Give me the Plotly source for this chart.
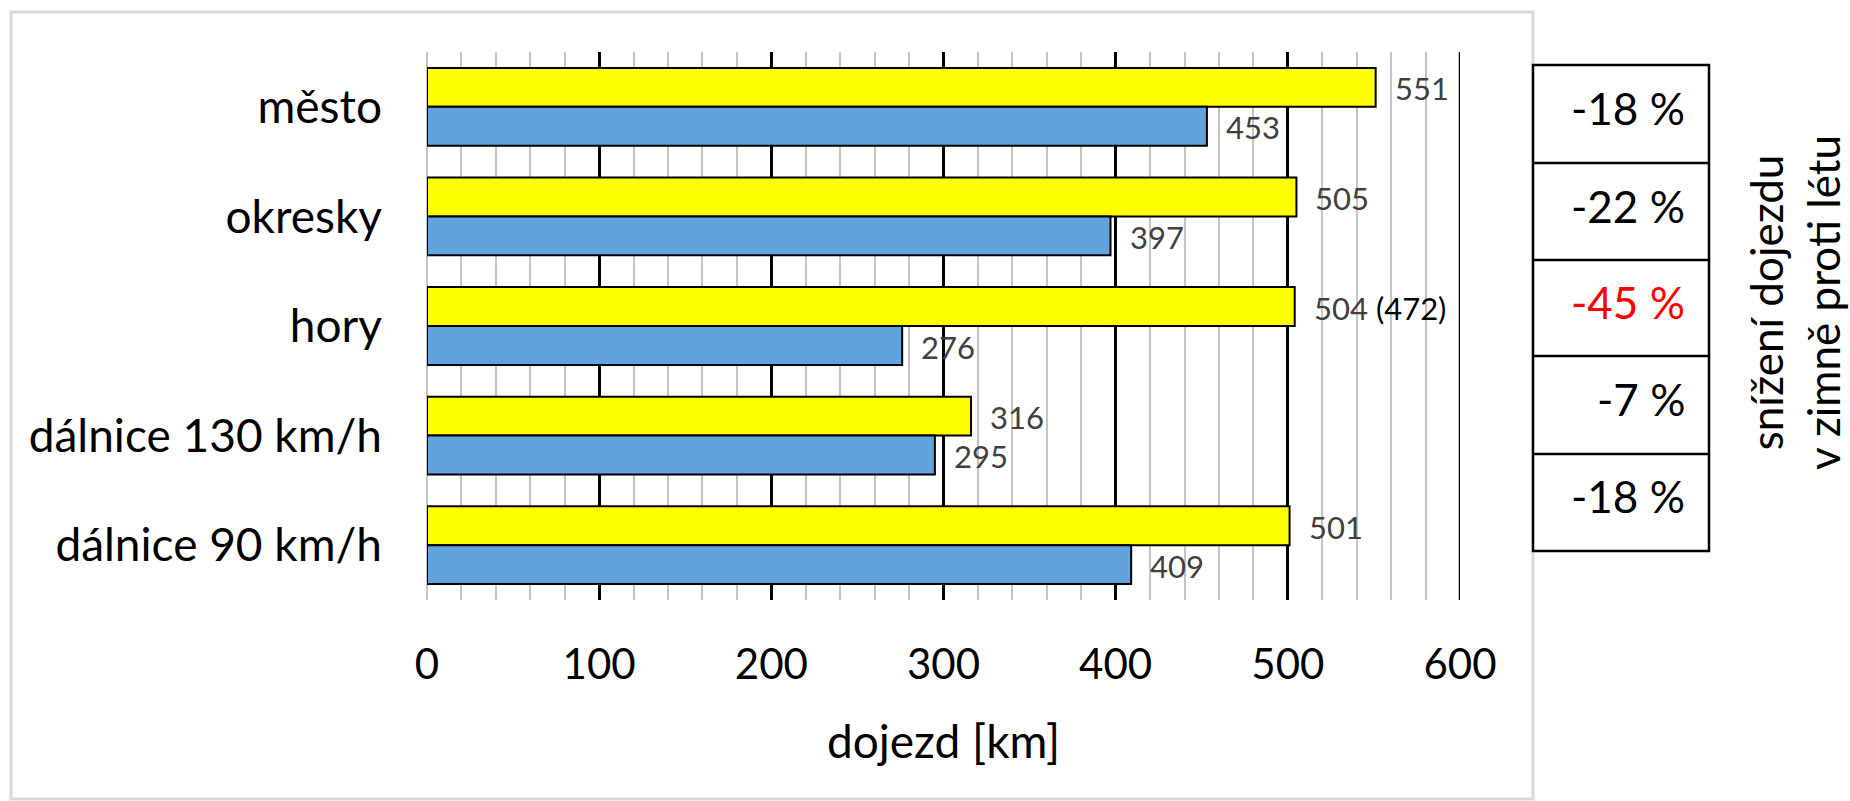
import plotly.graph_objects as go

# --- data -------------------------------------------------------------
categories = ["město", "okresky", "hory", "dálnice 130 km/h", "dálnice 90 km/h"]
summer_km = [551, 505, 504, 316, 501]          # léto
winter_km = [453, 397, 276, 295, 409]          # zima
summer_note = ["", "", "(472)", "", ""]        # alternative value shown in brackets
reduction_pct = [-18, -22, -45, -7, -18]       # snížení dojezdu v zimě proti létu
reduction_color = ["black", "black", "red", "black", "black"]
x_ticks = [0, 100, 200, 300, 400, 500, 600]

# --- figure geometry (pixels) -----------------------------------------
W, H = 1850, 801
PLOT_L, PLOT_R, PLOT_T, PLOT_B = 427, 1460, 52, 600
FONT = "Lato"


def px_x(px):
    return px / W


def px_y(py):
    return 1 - py / H


fig = go.Figure()
fig.add_trace(go.Bar(
    y=categories, x=summer_km, orientation="h", name="léto",
    marker=dict(color="#FFFF00", line=dict(color="black", width=2)),
    hoverinfo="skip",
))
fig.add_trace(go.Bar(
    y=categories, x=winter_km, orientation="h", name="zima",
    marker=dict(color="#62A3DE", line=dict(color="black", width=2)),
    hoverinfo="skip",
))

annotations = []
BAR_HALF = 19.5
# value labels next to the bar ends
for cat, s, note in zip(categories, summer_km, summer_note):
    txt = str(s)
    if note:
        txt += " <span style='color:black'>" + note + "</span>"
    annotations.append(dict(
        x=s, y=cat, xref="x", yref="y", text=txt, showarrow=False,
        xanchor="left", yanchor="middle", xshift=17, yshift=BAR_HALF - 1,
        font=dict(family=FONT, size=31, color="#404040"),
    ))
for cat, w in zip(categories, winter_km):
    annotations.append(dict(
        x=w, y=cat, xref="x", yref="y", text=str(w), showarrow=False,
        xanchor="left", yanchor="middle", xshift=17, yshift=-BAR_HALF - 1,
        font=dict(family=FONT, size=31, color="#404040"),
    ))

shapes = [
    # outer chart frame
    dict(type="rect", xref="paper", yref="paper",
         x0=px_x(11), x1=px_x(1533), y0=px_y(799), y1=px_y(12),
         line=dict(color="#d9d9d9", width=3), layer="below"),
    # last major gridline at the right edge of the value axis
    dict(type="line", xref="x", yref="paper",
         x0=x_ticks[-1], x1=x_ticks[-1], y0=px_y(PLOT_B), y1=px_y(PLOT_T),
         line=dict(color="black", width=2.5), layer="below"),
]

# side table with the winter reduction
TAB_L, TAB_R = 1533, 1709
row_edges = [65, 163, 260, 356, 454, 551]
shapes.append(dict(type="rect", xref="paper", yref="paper",
                   x0=px_x(TAB_L), x1=px_x(TAB_R),
                   y0=px_y(row_edges[-1]), y1=px_y(row_edges[0]),
                   line=dict(color="black", width=2.5), fillcolor="white"))
for e in row_edges[1:-1]:
    shapes.append(dict(type="line", xref="paper", yref="paper",
                       x0=px_x(TAB_L), x1=px_x(TAB_R), y0=px_y(e), y1=px_y(e),
                       line=dict(color="black", width=2.5)))
for i, (p, c) in enumerate(zip(reduction_pct, reduction_color)):
    yc = (row_edges[i] + row_edges[i + 1]) / 2 - 6
    annotations.append(dict(
        x=px_x(1687), y=px_y(yc), xref="paper", yref="paper",
        text=f"{p} %", showarrow=False, xanchor="right", yanchor="middle",
        font=dict(family=FONT, size=44, color=c),
    ))

annotations.append(dict(
    x=px_x(1794), y=px_y(303), xref="paper", yref="paper",
    text="snížení dojezdu<br>v zimně proti létu", showarrow=False,
    textangle=-90, xanchor="center", yanchor="middle", align="center",
    font=dict(family=FONT, size=44, color="black"),
))

fig.update_layout(
    width=W, height=H,
    margin=dict(l=0, r=0, t=0, b=0),
    paper_bgcolor="white", plot_bgcolor="white",
    barmode="group", bargap=0.29, bargroupgap=0,
    showlegend=False,
    shapes=shapes, annotations=annotations,
    xaxis=dict(
        domain=[px_x(PLOT_L), px_x(PLOT_R)], range=[0, 600],
        tickmode="array", tickvals=x_ticks, ticktext=[str(t) for t in x_ticks],
        showgrid=True, gridcolor="black", gridwidth=2.5,
        minor=dict(dtick=20, tick0=0, showgrid=True, gridcolor="#c4c4c4", gridwidth=2),
        zeroline=True, zerolinecolor="#c4c4c4", zerolinewidth=2,
        showline=False, ticks="", ticklabelstandoff=36,
        tickfont=dict(family=FONT, size=42, color="black"),
        title=dict(text="dojezd [km]", standoff=38,
                   font=dict(family=FONT, size=46, color="black")),
        automargin=False, fixedrange=True,
    ),
    yaxis=dict(
        domain=[px_y(PLOT_B), px_y(PLOT_T)],
        type="category", autorange="reversed",
        showgrid=False, zeroline=False, showline=False, ticks="",
        ticklabelstandoff=44,
        tickfont=dict(family=FONT, size=46, color="black"),
        automargin=False, fixedrange=True,
    ),
)

fig.write_html("out.html")
